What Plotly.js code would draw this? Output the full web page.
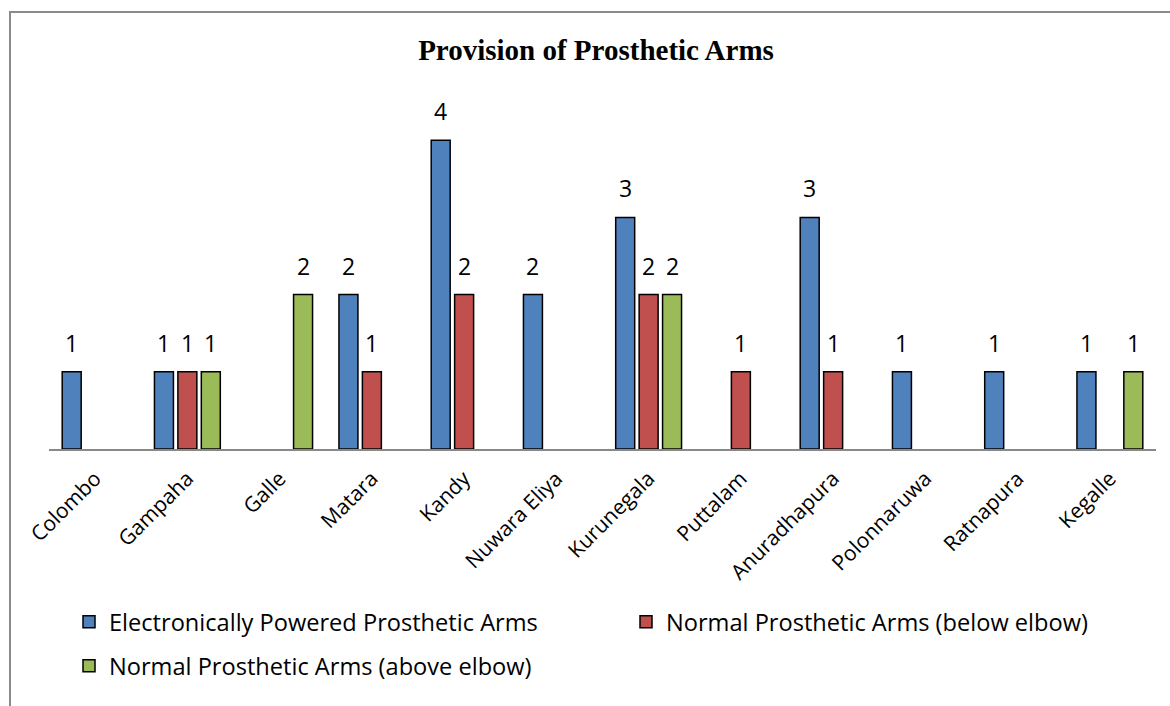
<!DOCTYPE html>
<html>
<head>
<meta charset="utf-8">
<script src="https://cdn.plot.ly/plotly-3.0.1.min.js"></script>
<style>
  html, body { margin: 0; padding: 0; background: #fff; }
  #wrap { position: relative; width: 1170px; height: 706px; }
  #chart { width: 1170px; height: 706px; }
  #frame { position: absolute; left: 9px; top: 11px; width: 1200px; height: 720px;
           border-top: 2px solid #8a8a8a; border-left: 2px solid #8a8a8a; pointer-events: none; }
</style>
</head>
<body>
<div id="wrap">
  <div id="chart"></div>
  <div id="frame"></div>
</div>
<script>
const categories = ["Colombo", "Gampaha", "Galle", "Matara", "Kandy", "Nuwara Eliya",
  "Kurunegala", "Puttalam", "Anuradhapura", "Polonnaruwa", "Ratnapura", "Kegalle"];
const electronicArms = [1, 1, 0, 2, 4, 2, 3, 0, 3, 1, 1, 1];
const belowElbowArms = [0, 1, 0, 1, 2, 0, 2, 1, 1, 0, 0, 0];
const aboveElbowArms = [0, 1, 2, 0, 0, 0, 2, 0, 0, 0, 0, 1];
const seriesNames = ["Electronically Powered Prosthetic Arms",
  "Normal Prosthetic Arms (below elbow)", "Normal Prosthetic Arms (above elbow)"];
const seriesColors = ["#4F81BD", "#C0504D", "#9BBB59"];
const seriesValues = [electronicArms, belowElbowArms, aboveElbowArms];
const legendIds = ["legend", "legend2", "legend3"];

const W = 1170, H = 706;
const margin = {l: 49, r: 14, t: 63, b: 257};
const bargap = 0.238, bargroupgap = 0.19;
const plotW = W - margin.l - margin.r;
const slotPx = plotW / categories.length * (1 - bargap) / seriesValues.length;

const traces = seriesValues.map((vals, i) => ({
  type: "bar",
  name: seriesNames[i],
  legend: legendIds[i],
  x: categories,
  y: vals.map(v => v > 0 ? v : null),
  marker: {color: seriesColors[i], line: {color: "#000", width: 1.5}},
  hoverinfo: "none"
}));

const annotations = [];
seriesValues.forEach((vals, i) => {
  vals.forEach((v, j) => {
    if (v > 0) {
      annotations.push({
        x: categories[j], y: v, xref: "x", yref: "y",
        text: String(v), showarrow: false,
        xshift: (i - 1) * slotPx, yshift: 29, yanchor: "middle",
        font: {family: "Open Sans, sans-serif", size: 23, color: "#000"}
      });
    }
  });
});

const legendFont = {family: "Open Sans, sans-serif", size: 23.6, color: "#000"};
function legendAt(px, py) {
  return {orientation: "h", xref: "container", yref: "container",
          x: px / W, xanchor: "left", y: 1 - py / H, yanchor: "middle",
          bgcolor: "rgba(0,0,0,0)", font: legendFont};
}

const layout = {
  width: W, height: H,
  margin: margin,
  paper_bgcolor: "#fff", plot_bgcolor: "#fff",
  title: {text: "<b>Provision of Prosthetic Arms</b>", xref: "container", x: 596 / W, xanchor: "center",
          yref: "container", y: 1 - 50 / H, yanchor: "middle",
          font: {family: "Liberation Serif, serif", size: 29, color: "#000"}},
  barmode: "group", bargap: bargap, bargroupgap: bargroupgap,
  xaxis: {type: "category", showline: true, linecolor: "#898989", linewidth: 2,
          ticks: "", tickangle: -45, showgrid: false, zeroline: false, automargin: false,
          ticklabelstandoff: 7,
          tickfont: {family: "Open Sans, sans-serif", size: 21, color: "#000"}},
  yaxis: {range: [0, 5], visible: false, showgrid: false, zeroline: false, automargin: false},
  showlegend: true,
  legend: legendAt(69, 622),
  legend2: legendAt(626, 622),
  legend3: legendAt(69, 666),
  annotations: annotations
};

Plotly.newPlot("chart", traces, layout, {displayModeBar: false, staticPlot: true});
</script>
</body>
</html>
